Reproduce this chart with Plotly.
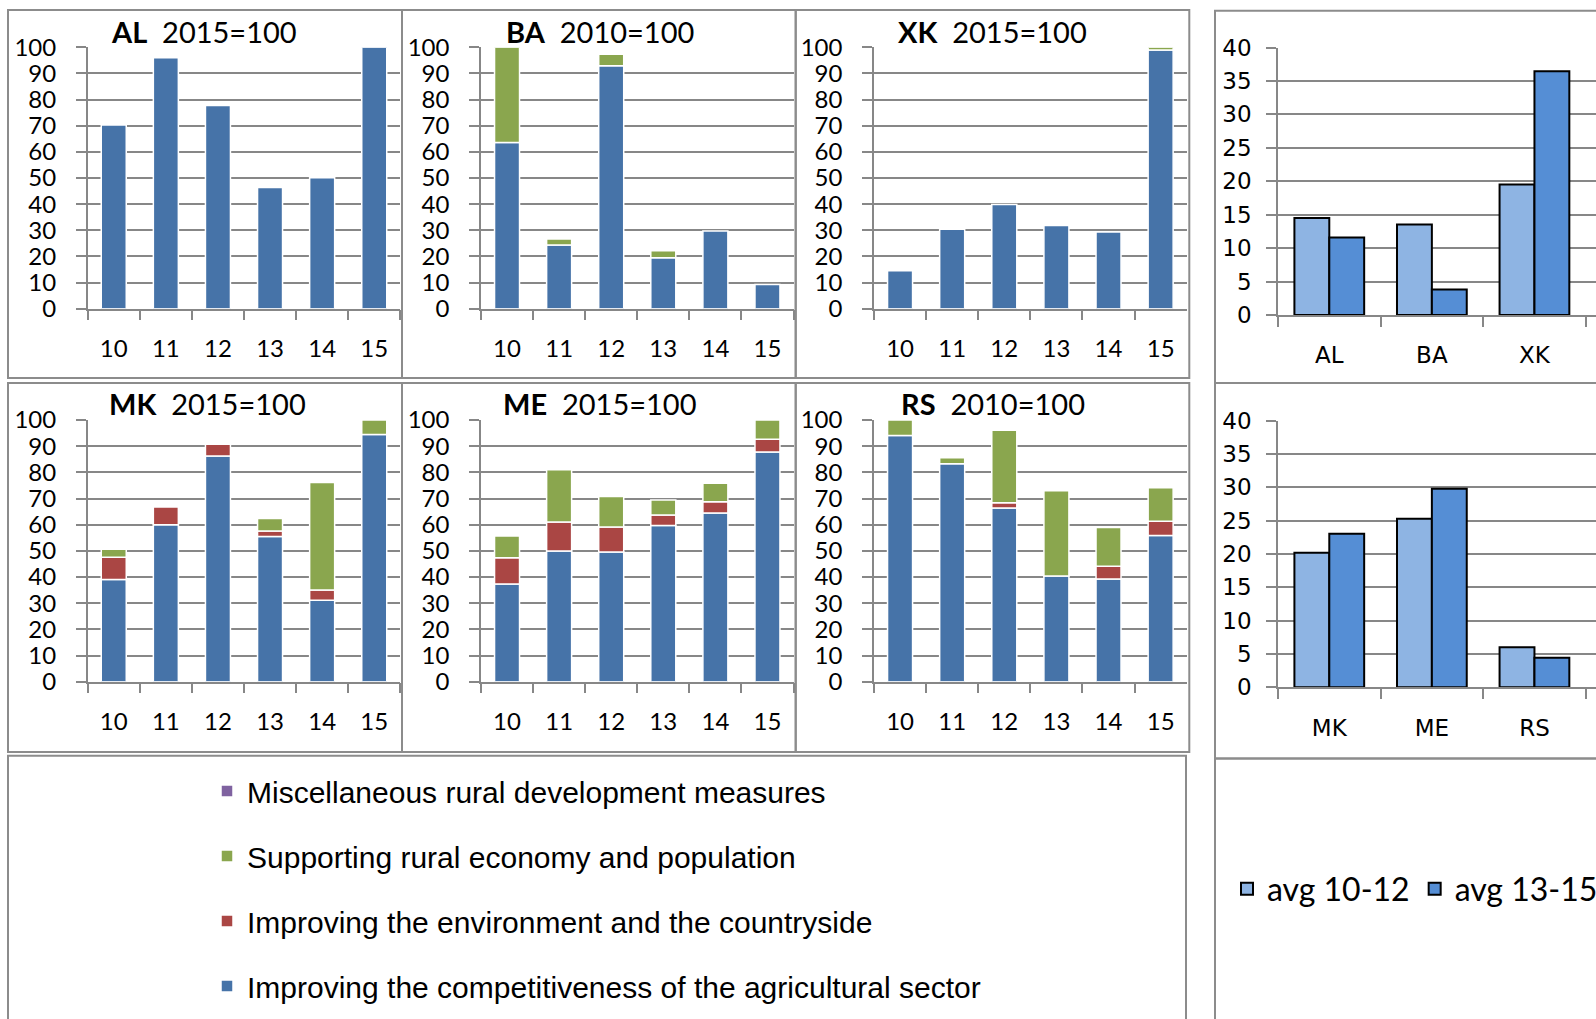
import plotly.graph_objects as go

W, H = 1596, 1019

# ---------------- data ----------------
years = ["10", "11", "12", "13", "14", "15"]

series_names = [
    "Improving the competitiveness of the agricultural sector",
    "Improving the environment and the countryside",
    "Supporting rural economy and population",
    "Miscellaneous rural development measures",
]

AL_competitiveness = [70.3, 96.0, 77.7, 46.4, 50.1, 100.0]
AL_environment = [0, 0, 0, 0, 0, 0]
AL_rural_economy = [0, 0, 0, 0, 0, 0]
AL_misc = [0, 0, 0, 0, 0, 0]

BA_competitiveness = [63.6, 24.4, 92.9, 19.5, 29.7, 9.3]
BA_environment = [0, 0, 0, 0, 0, 0]
BA_rural_economy = [36.4, 2.3, 4.4, 2.7, 0, 0]
BA_misc = [0, 0, 0, 0, 0, 0]

XK_competitiveness = [14.5, 30.4, 39.9, 31.8, 29.3, 99.0]
XK_environment = [0, 0, 0, 0, 0, 0]
XK_rural_economy = [0, 0, 0, 0, 0, 1.0]
XK_misc = [0, 0, 0, 0, 0, 0]

MK_competitiveness = [39.1, 60.0, 86.2, 55.5, 31.1, 94.5]
MK_environment = [8.5, 6.8, 4.5, 2.1, 3.9, 0]
MK_rural_economy = [3.0, 0, 0, 4.8, 41.1, 5.5]
MK_misc = [0, 0, 0, 0, 0, 0]

ME_competitiveness = [37.3, 49.9, 49.6, 59.7, 64.5, 87.8]
ME_environment = [10.1, 11.1, 9.5, 4.0, 4.3, 4.8]
ME_rural_economy = [8.3, 20.0, 11.7, 5.7, 7.0, 7.4]
ME_misc = [0, 0, 0, 0, 0, 0]

RS_competitiveness = [94.1, 83.3, 66.4, 40.4, 39.2, 55.9]
RS_environment = [0, 0, 2.0, 0, 4.9, 5.4]
RS_rural_economy = [5.9, 2.3, 27.7, 32.6, 14.8, 12.8]
RS_misc = [0, 0, 0, 0, 0, 0]

panel_codes = ["AL", "BA", "XK", "MK", "ME", "RS"]
panel_bases = ["2015=100", "2010=100", "2015=100", "2015=100", "2015=100", "2010=100"]

regions_top = ["AL", "BA", "XK"]
avg_10_12_top = [14.5, 13.55, 19.5]
avg_13_15_top = [11.6, 3.8, 36.45]

regions_bottom = ["MK", "ME", "RS"]
avg_10_12_bottom = [20.2, 25.3, 6.0]
avg_13_15_bottom = [23.05, 29.8, 4.45]

y_ticks_left = list(range(0, 101, 10))
y_ticks_right = list(range(0, 41, 5))

panel_data = {
    "AL": [AL_competitiveness, AL_environment, AL_rural_economy, AL_misc],
    "BA": [BA_competitiveness, BA_environment, BA_rural_economy, BA_misc],
    "XK": [XK_competitiveness, XK_environment, XK_rural_economy, XK_misc],
    "MK": [MK_competitiveness, MK_environment, MK_rural_economy, MK_misc],
    "ME": [ME_competitiveness, ME_environment, ME_rural_economy, ME_misc],
    "RS": [RS_competitiveness, RS_environment, RS_rural_economy, RS_misc],
}

# ---------------- style ----------------
series_colors = ["#4673A8", "#AA4644", "#8AA64E", "#7F62A0"]
light_blue = "#8EB4E3"
mid_blue = "#558ED5"
grid_col = "#878787"
frame_col = "#8C8C8C"
LEFT_FONT = "Lato"
RIGHT_FONT = "DejaVu Sans"

# plot areas in pixels: (x_left, x_right, y_top, y_bottom)
left_boxes = [
    (87.7, 400.3, 47.3, 308.7),
    (481.0, 793.5, 47.3, 308.7),
    (874.0, 1186.7, 47.3, 308.7),
    (87.7, 400.3, 420.0, 681.7),
    (481.0, 793.5, 420.0, 681.7),
    (874.0, 1186.7, 420.0, 681.7),
]
right_boxes = [
    (1278.0, 1596.0, 47.5, 315.0),
    (1278.0, 1596.0, 420.7, 687.3),
]
title_pos = [(204, 31), (600, 31), (992, 31), (207, 403), (600, 403), (993, 403)]


def xdom(a, b):
    return [a / W, min(b / W, 1.0)]


def ydom(top, bottom):
    return [1 - bottom / H, 1 - top / H]


fig = go.Figure()
layout_axes = {}

for i, code in enumerate(panel_codes):
    k = i + 1
    xa = "x" if k == 1 else f"x{k}"
    ya = "y" if k == 1 else f"y{k}"
    base = [0.0] * len(years)
    for s, (name, vals) in enumerate(zip(series_names, panel_data[code])):
        fig.add_trace(go.Bar(
            x=years,
            y=[v if v else None for v in vals],
            base=list(base),
            name=name,
            marker=dict(color=series_colors[s], line=dict(color="white", width=1.5)),
            width=0.48,
            xaxis=xa, yaxis=ya,
            legend="legend",
            legendgroup=f"g{s}",
            legendrank=10 - s,
            showlegend=(i == 0),
        ))
        base = [b + v for b, v in zip(base, vals)]
    x0, x1, yt, yb = left_boxes[i]
    axn = "" if k == 1 else str(k)
    layout_axes[f"xaxis{axn}"] = dict(
        domain=xdom(x0, x1), anchor=ya, type="category",
        categoryorder="array", categoryarray=years,
        range=[-0.5, len(years) - 0.5],
        showline=True, linecolor=grid_col, linewidth=1.5,
        ticks="outside", tickson="boundaries", ticklen=10, tickwidth=1.5, tickcolor=grid_col,
        ticklabelstandoff=18,
        tickfont=dict(family=LEFT_FONT, size=24, color="black"),
        showgrid=False, fixedrange=True,
    )
    layout_axes[f"yaxis{axn}"] = dict(
        domain=ydom(yt, yb), anchor=xa, range=[0, 100],
        tickvals=y_ticks_left,
        showline=True, linecolor=grid_col, linewidth=1.5,
        ticks="outside", ticklen=10, tickwidth=1.5, tickcolor=grid_col,
        ticklabelstandoff=15,
        showgrid=True, gridcolor=grid_col, gridwidth=1.5,
        zeroline=False,
        tickfont=dict(family=LEFT_FONT, size=24, color="black"),
        fixedrange=True,
    )

right_sets = [
    (regions_top, avg_10_12_top, avg_13_15_top),
    (regions_bottom, avg_10_12_bottom, avg_13_15_bottom),
]
for j, (cats, a1, a2) in enumerate(right_sets):
    k = 7 + j
    xa, ya = f"x{k}", f"y{k}"
    for name, vals, col, off in [("avg 10-12", a1, light_blue, -0.34), ("avg 13-15", a2, mid_blue, 0.0)]:
        fig.add_trace(go.Bar(
            x=cats, y=vals, name=name,
            marker=dict(color=col, line=dict(color="black", width=2)),
            width=0.34, offset=off,
            xaxis=xa, yaxis=ya,
            legend="legend2",
            showlegend=(j == 0),
        ))
    x0, x1, yt, yb = right_boxes[j]
    layout_axes[f"xaxis{k}"] = dict(
        domain=xdom(x0, x1), anchor=ya, type="category",
        categoryorder="array", categoryarray=cats,
        range=[-0.5, 2.6],
        showline=True, linecolor=grid_col, linewidth=1.5,
        ticks="outside", tickson="boundaries", ticklen=10, tickwidth=1.5, tickcolor=grid_col,
        ticklabelstandoff=19,
        tickfont=dict(family=RIGHT_FONT, size=23, color="black"),
        showgrid=False, fixedrange=True,
    )
    layout_axes[f"yaxis{k}"] = dict(
        domain=ydom(yt, yb), anchor=xa, range=[0, 40],
        tickvals=y_ticks_right,
        showline=True, linecolor=grid_col, linewidth=1.5,
        ticks="outside", ticklen=10, tickwidth=1.5, tickcolor=grid_col,
        ticklabelstandoff=10,
        showgrid=True, gridcolor=grid_col, gridwidth=1.5,
        zeroline=False,
        tickfont=dict(family=RIGHT_FONT, size=23, color="black"),
        fixedrange=True,
    )

annotations = []
for i, code in enumerate(panel_codes):
    cx, cy = title_pos[i]
    annotations.append(dict(
        x=cx / W, y=1 - cy / H, xref="paper", yref="paper",
        xanchor="center", yanchor="middle", showarrow=False,
        text=f"<b>{code}</b>\u00a0\u00a0{panel_bases[i]}",
        font=dict(family=LEFT_FONT, size=29, color="black"),
    ))


def rect(x0, y0, x1, y1):
    return dict(type="rect", xref="paper", yref="paper",
                x0=x0 / W, x1=x1 / W, y0=1 - y0 / H, y1=1 - y1 / H,
                line=dict(color=frame_col, width=2), layer="below")


shapes = [
    rect(8, 10, 402, 378), rect(402, 10, 795.7, 378), rect(795.7, 10, 1189.3, 378),
    rect(8, 383, 402, 752), rect(402, 383, 795.7, 752), rect(795.7, 383, 1189.3, 752),
    rect(8, 755.7, 1186, 1030),
    rect(1215, 10.7, 1610, 383), rect(1215, 383, 1610, 758.6), rect(1215, 758.6, 1610, 1030),
]

fig.update_layout(
    width=W, height=H,
    margin=dict(l=0, r=0, t=0, b=0, autoexpand=False),
    paper_bgcolor="white", plot_bgcolor="white",
    barmode="overlay",
    showlegend=True,
    legend=dict(
        x=207 / W, y=1 - 765 / H, xanchor="left", yanchor="top",
        orientation="v", traceorder="grouped", tracegroupgap=23,
        font=dict(family="Liberation Sans", size=30, color="black"),
        bgcolor="rgba(0,0,0,0)",
    ),
    legend2=dict(
        x=1227 / W, y=1 - 889 / H, xanchor="left", yanchor="middle",
        orientation="h",
        font=dict(family=LEFT_FONT, size=32, color="black"),
        bgcolor="rgba(0,0,0,0)",
    ),
    annotations=annotations,
    shapes=shapes,
    **layout_axes,
)

fig.write_html(
    "out.html",
    config={"displayModeBar": False},
    post_script="document.body.style.margin='0';document.body.style.overflow='hidden';",
)
